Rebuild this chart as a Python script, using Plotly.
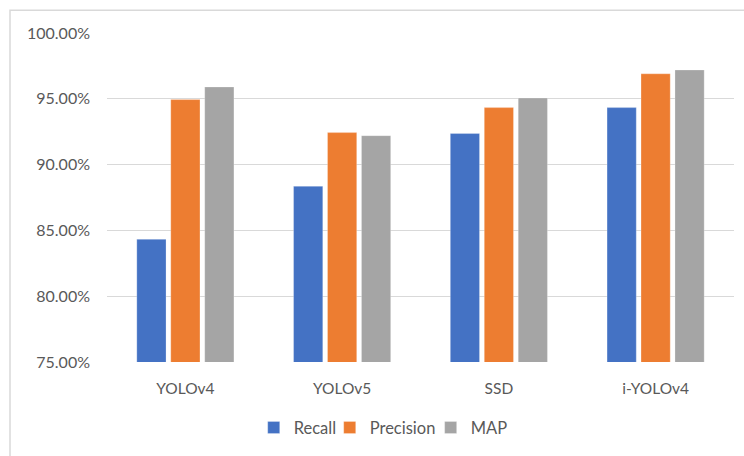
import plotly.graph_objects as go

categories = ["YOLOv4", "YOLOv5", "SSD", "i-YOLOv4"]
recall = [84.32, 88.35, 92.36, 94.33]
precision = [94.94, 92.43, 94.33, 96.90]
map_vals = [95.90, 92.20, 95.06, 97.19]
y_ticks = [75, 80, 85, 90, 95, 100]

FONT = "Lato"
GRID = "#D9D9D9"
TXT = "#595959"

series = [("Recall", recall, "#4472C4", "legend"),
          ("Precision", precision, "#ED7D31", "legend2"),
          ("MAP", map_vals, "#A5A5A5", "legend3")]

fig = go.Figure()
for name, vals, col, lg in series:
    fig.add_trace(go.Bar(
        x=categories, y=vals, name=name, legend=lg,
        marker=dict(color=col, line=dict(color="rgba(255,255,255,0.5)", width=0.5)),
    ))

leg_common = dict(orientation="h", xanchor="left", y=-0.20, yanchor="middle",
                  font=dict(size=16.5, color=TXT), bgcolor="rgba(0,0,0,0)")

fig.update_layout(
    width=744, height=456,
    margin=dict(l=107, r=10, t=33, b=94, autoexpand=False),
    paper_bgcolor="white", plot_bgcolor="white",
    barmode="group", bargap=0.35, bargroupgap=0.14,
    font=dict(family=FONT, color=TXT, size=14),
    legend=dict(x=0.2340, **leg_common),
    legend2=dict(x=0.3552, **leg_common),
    legend3=dict(x=0.5162, **leg_common),
    showlegend=True,
    xaxis=dict(showgrid=False, showline=False, zeroline=False, ticks="",
               ticklabelstandoff=15, tickfont=dict(size=15.5, color=TXT)),
    yaxis=dict(range=[75, 100], tickvals=y_ticks,
               ticktext=[f"{v:.2f}%" for v in y_ticks],
               showgrid=True, gridcolor=GRID, gridwidth=1.2,
               zeroline=False, showline=False, ticks="",
               ticklabelstandoff=16, tickfont=dict(size=16, color=TXT)),
    shapes=[dict(type="rect", xref="paper", yref="paper",
                 x0=-0.1547, x1=1.2, y0=-0.5, y1=1.069,
                 line=dict(color=GRID, width=1.5), fillcolor="rgba(0,0,0,0)",
                 layer="below")],
)

fig.write_html("out.html", config={"displayModeBar": False},
               post_script="document.body.style.margin='0';")
